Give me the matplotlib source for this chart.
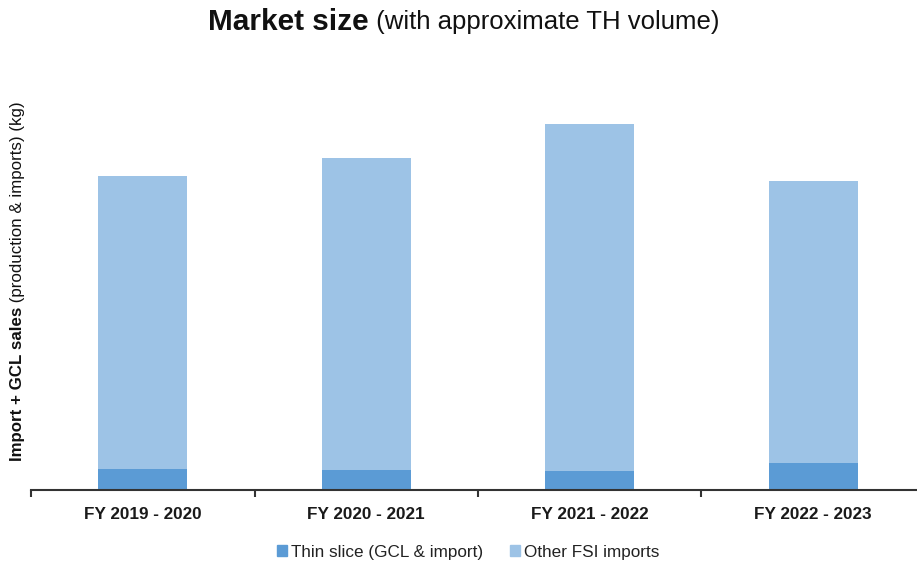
import matplotlib
matplotlib.use('Agg')
import matplotlib.pyplot as plt
from matplotlib.patches import Patch

plt.rcParams['font.family'] = ['Liberation Sans', 'DejaVu Sans']

# market volumes per financial year (kg, approx.)
years = ['FY 2019 - 2020', 'FY 2020 - 2021', 'FY 2021 - 2022', 'FY 2022 - 2023']
thin_slice = [21, 20, 19, 27]
other_fsi = [293, 312, 347, 282]

dark_blue = '#5b9bd5'
light_blue = '#9dc3e6'

W, H = 917, 565
fig = plt.figure(figsize=(W / 100, H / 100), dpi=100)
ax = fig.add_axes([31 / W, 1 - 490 / H, 894 / W, 410 / H])

x = range(len(years))
ax.bar(x, thin_slice, width=0.4, color=dark_blue, label='Thin slice (GCL & import)')
ax.bar(x, other_fsi, width=0.4, bottom=thin_slice, color=light_blue, label='Other FSI imports')

ax.set_xlim(-0.5, len(years) - 0.5)
ax.set_ylim(0, 410)
ax.set_xticks(list(x))
ax.set_xticklabels(years, fontsize=12.3, fontweight='bold', color='#1a1a1a')
ax.set_xticks([i - 0.5 for i in range(len(years) + 1)], minor=True)
ax.tick_params(axis='x', which='major', length=0, pad=12)
ax.tick_params(axis='x', which='minor', length=5, width=1.5, direction='out', color='#333333')
ax.set_yticks([])
for s in ['left', 'right', 'top']:
    ax.spines[s].set_visible(False)
ax.spines['bottom'].set_linewidth(1.5)
ax.spines['bottom'].set_color('#333333')

fig.canvas.draw()
r = fig.canvas.get_renderer()

# title: bold part + normal part, centred together
t1 = fig.text(0, 1 - 22 / H, 'Market size', fontsize=21.4, fontweight='bold', va='center', color='#111111')
t2 = fig.text(0, 1 - 22 / H, ' (with approximate TH volume)', fontsize=18.5, va='center', color='#111111')
w1 = t1.get_window_extent(r).width
w2 = t2.get_window_extent(r).width
x0 = 464 - (w1 + w2) / 2
t1.set_x(x0 / W)
t2.set_x((x0 + w1) / W)

# y label: bold part at the bottom, normal part above it
y1 = fig.text(18 / W, 0, 'Import + GCL sales', fontsize=12.2, fontweight='bold', rotation=90,
              ha='center', va='bottom', color='#111111')
y2 = fig.text(18 / W, 0, ' (production & imports) (kg)', fontsize=12.2, rotation=90,
              ha='center', va='bottom', color='#111111')
h1 = y1.get_window_extent(r).height
h2 = y2.get_window_extent(r).height
yb = 284 - (h1 + h2) / 2
y1.set_y(yb / H)
y2.set_y((yb + h1) / H)

handles = [Patch(color=dark_blue), Patch(color=light_blue)]
fig.legend(handles, ['Thin slice (GCL & import)', 'Other FSI imports'], loc='center',
           bbox_to_anchor=(468 / W, 1 - 552 / H), ncol=2, frameon=False, fontsize=12.3,
           handlelength=0.6, handleheight=0.6, handletextpad=0.2, columnspacing=1.6,
           labelcolor='#222222')

fig.savefig('out.png', dpi=100)
